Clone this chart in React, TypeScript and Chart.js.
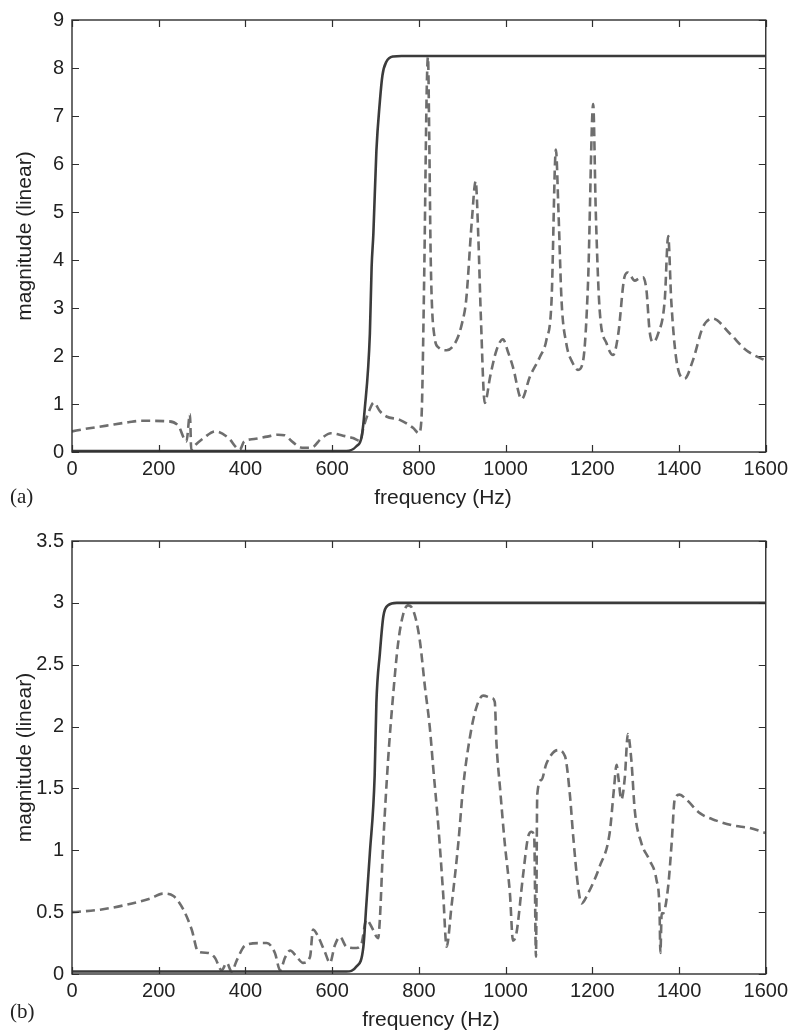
import React, { useEffect, useRef } from "react";
import { Chart, registerables } from "chart.js";

Chart.register(...registerables);

// ---------- Panel (a) ----------
const dashedFreqA = [
  0, 30, 80, 130, 160, 218, 245, 264, 272, 275, 285, 305, 330, 360, 387, 397, 420, 450, 475, 490,
  510, 530, 552, 575, 597, 625, 648, 665, 672, 685, 696, 710, 725, 756, 787, 800, 806, 812, 818, 821,
  824, 827, 830, 836, 845, 864, 887, 900, 909, 922, 931, 937, 943, 952, 965, 979, 994, 1005, 1017, 1037,
  1056, 1079, 1094, 1106, 1116, 1122, 1129, 1140, 1155, 1167, 1179, 1190, 1202, 1208, 1217, 1233, 1248, 1260, 1274, 1282,
  1298, 1308, 1317, 1325, 1332, 1340, 1352, 1367, 1375, 1382, 1394, 1413, 1432, 1455, 1478, 1517, 1555, 1600,
];
const dashedMagA = [
  0.43, 0.48, 0.55, 0.62, 0.65, 0.64, 0.55, 0.22, 0.79, 0.05, 0.15, 0.3, 0.43, 0.3, 0.05, 0.22, 0.27, 0.32, 0.36, 0.35,
  0.2, 0.09, 0.09, 0.28, 0.39, 0.34, 0.29, 0.23, 0.5, 0.85, 1.03, 0.85, 0.74, 0.67, 0.5, 0.39, 0.7, 3.5, 7.5, 8.23,
  6.5, 4.2, 3.1, 2.4, 2.18, 2.12, 2.33, 2.7, 3.16, 4.8, 5.64, 4.5, 2.8, 1.02, 1.6, 2.12, 2.35, 2.1, 1.77, 1.1,
  1.57, 1.98, 2.33, 3.16, 6.3, 5.0, 3.16, 2.26, 1.85, 1.71, 1.91, 3.5, 7.25, 5.0, 2.95, 2.26, 2.02, 2.47, 3.64, 3.74,
  3.57, 3.62, 3.64, 3.36, 2.53, 2.29, 2.47, 3.16, 4.5, 3.16, 1.91, 1.53, 1.91, 2.6, 2.78, 2.47, 2.12, 1.9,
];
const solidFreqA = [0, 300, 600, 633, 656, 668, 675, 687, 691, 695, 702, 710, 716, 725, 741, 760, 1600];
const solidMagA = [0.02, 0.02, 0.02, 0.02, 0.12, 0.32, 0.88, 2.47, 3.85, 4.54, 6.27, 7.3, 7.85, 8.13, 8.24, 8.25, 8.25];

// ---------- Panel (b) ----------
const dashedFreqB = [
  0, 65, 126, 180, 210, 234, 257, 276, 291, 314, 330, 345, 357, 368, 380, 399, 433, 449, 468, 480,
  491, 503, 518, 533, 549, 556, 568, 583, 595, 606, 618, 633, 656, 668, 679, 691, 706, 710, 717, 729,
  741, 752, 764, 775, 787, 802, 814, 825, 833, 845, 856, 864, 875, 891, 902, 918, 933, 948, 968, 975,
  979, 987, 998, 1010, 1017, 1025, 1040, 1052, 1060, 1066, 1070, 1073, 1083, 1094, 1121, 1137, 1148, 1156, 1167, 1175,
  1190, 1217, 1240, 1250, 1256, 1260, 1267, 1275, 1282, 1290, 1298, 1313, 1332, 1348, 1355, 1357, 1360, 1363, 1375, 1383,
  1390, 1401, 1417, 1448, 1486, 1525, 1563, 1600,
];
const dashedMagB = [
  0.5, 0.52, 0.56, 0.61, 0.65, 0.63, 0.52, 0.36, 0.18, 0.17, 0.13, 0.03, 0.09, 0.02, 0.11, 0.23, 0.25, 0.25, 0.17, 0.03,
  0.13, 0.19, 0.14, 0.09, 0.14, 0.36, 0.3, 0.18, 0.09, 0.23, 0.3, 0.22, 0.21, 0.25, 0.44, 0.38, 0.29, 0.44, 1.0, 1.73,
  2.27, 2.67, 2.91, 2.98, 2.94, 2.7, 2.32, 2.0, 1.67, 1.19, 0.65, 0.22, 0.54, 1.06, 1.51, 1.92, 2.16, 2.25, 2.23, 2.2,
  1.86, 1.51, 1.06, 0.65, 0.27, 0.33, 0.79, 1.11, 1.15, 1.11, 0.14, 1.45, 1.57, 1.7, 1.81, 1.76, 1.46, 1.11, 0.71, 0.57,
  0.65, 0.87, 1.14, 1.5, 1.69, 1.59, 1.41, 1.59, 1.94, 1.73, 1.32, 1.06, 0.92, 0.76, 0.52, 0.17, 0.49, 0.49, 0.71, 1.06,
  1.41, 1.45, 1.41, 1.3, 1.24, 1.2, 1.18, 1.14,
];
const solidFreqB = [0, 300, 600, 633, 656, 672, 679, 687, 698, 702, 710, 718, 729, 749, 1600];
const solidMagB = [0.02, 0.02, 0.02, 0.02, 0.06, 0.22, 0.57, 0.98, 1.6, 2.19, 2.59, 2.89, 2.98, 3.0, 3.0];

const xTickStep = 200;
const xMax = 1600;
const yMaxA = 9;
const yStepA = 1;
const yMaxB = 3.5;
const yStepB = 0.5;

const xTitle = "frequency (Hz)";
const yTitle = "magnitude (linear)";

const SANS = '"Liberation Sans", Arial, Helvetica, sans-serif';
const SERIF = '"Liberation Serif", "Times New Roman", serif';

const toPoints = (xs: number[], ys: number[]) => xs.map((x, i) => ({ x, y: ys[i] }));

const framePlugin = {
  id: "frame",
  afterDraw(chart: any, _args: any, opts: any) {
    const { ctx, chartArea: a, scales } = chart;
    ctx.save();
    ctx.strokeStyle = "#2e2e2e";
    ctx.lineWidth = 1.4;
    ctx.strokeRect(a.left, a.top, a.right - a.left, a.bottom - a.top);
    const L = 7;
    ctx.beginPath();
    scales.x.ticks.forEach((t: any) => {
      const px = Math.round(scales.x.getPixelForValue(t.value)) + 0.5;
      ctx.moveTo(px, a.bottom);
      ctx.lineTo(px, a.bottom - L);
      ctx.moveTo(px, a.top);
      ctx.lineTo(px, a.top + L);
    });
    scales.y.ticks.forEach((t: any) => {
      const py = Math.round(scales.y.getPixelForValue(t.value)) + 0.5;
      ctx.moveTo(a.left, py);
      ctx.lineTo(a.left + L, py);
      ctx.moveTo(a.right, py);
      ctx.lineTo(a.right - L, py);
    });
    ctx.lineWidth = 1.2;
    ctx.stroke();

    ctx.fillStyle = "#222";
    ctx.font = `21px ${SANS}`;
    ctx.textAlign = "center";
    ctx.textBaseline = "middle";
    ctx.fillText(opts.xTitle, opts.xTitleX, opts.xTitleY);

    ctx.font = `21px ${SERIF}`;
    ctx.textAlign = "left";
    ctx.fillText(opts.panel, opts.panelX, opts.panelY);
    ctx.restore();
  },
};

type PanelProps = {
  dashed: { x: number; y: number }[];
  solid: { x: number; y: number }[];
  yMax: number;
  yStep: number;
  padTop: number;
  xAxisHeight: number;
  panel: string;
  xTitleX: number;
  xTitleY: number;
  panelY: number;
};

function Panel(p: PanelProps) {
  const ref = useRef<HTMLCanvasElement | null>(null);
  useEffect(() => {
    if (!ref.current) return;
    const chart = new Chart(ref.current, {
      type: "line",
      data: {
        datasets: [
          {
            data: p.solid,
            borderColor: "#3b3b3b",
            borderWidth: 2.6,
            pointRadius: 0,
            fill: false,
            cubicInterpolationMode: "monotone",
          },
          {
            data: p.dashed,
            borderColor: "#6e6e6e",
            borderWidth: 2.6,
            borderDash: [9, 5],
            pointRadius: 0,
            fill: false,
            cubicInterpolationMode: "monotone",
          },
        ],
      },
      options: {
        animation: false,
        responsive: false,
        events: [],
        layout: { padding: { top: p.padTop, right: 27, left: 0, bottom: 0 } },
        plugins: {
          legend: { display: false },
          tooltip: { enabled: false },
          frame: {
            xTitle,
            xTitleX: p.xTitleX,
            xTitleY: p.xTitleY,
            panel: p.panel,
            panelX: 10,
            panelY: p.panelY,
          },
        } as any,
        scales: {
          x: {
            type: "linear",
            min: 0,
            max: xMax,
            grid: { display: false, drawTicks: false },
            border: { display: false },
            ticks: {
              stepSize: xTickStep,
              padding: 5,
              color: "#222",
              font: { family: SANS, size: 20 },
              maxRotation: 0,
              callback: (v: any) => String(v),
            },
            afterFit: (s: any) => {
              s.height = p.xAxisHeight;
            },
          },
          y: {
            type: "linear",
            min: 0,
            max: p.yMax,
            grid: { display: false, drawTicks: false },
            border: { display: false },
            ticks: {
              stepSize: p.yStep,
              padding: 8,
              color: "#222",
              font: { family: SANS, size: 20 },
              callback: (v: any) => String(v),
            },
            title: {
              display: true,
              text: yTitle,
              color: "#222",
              font: { family: SANS, size: 21 },
              padding: { top: 13, bottom: 0 },
            },
            afterFit: (s: any) => {
              s.width = 72;
            },
          },
        },
      },
      plugins: [framePlugin],
    } as any);
    return () => chart.destroy();
  }, []);
  return <canvas ref={ref} width={793} height={516} style={{ display: "block" }} />;
}

export default function App() {
  return (
    <div style={{ position: "absolute", left: 0, top: 0, width: 793, height: 1032, background: "#fff" }}>
      <Panel
        dashed={toPoints(dashedFreqA, dashedMagA)}
        solid={toPoints(solidFreqA, solidMagA)}
        yMax={yMaxA}
        yStep={yStepA}
        padTop={18}
        xAxisHeight={64}
        panel="(a)"
        xTitleX={443}
        xTitleY={498}
        panelY={497}
      />
      <Panel
        dashed={toPoints(dashedFreqB, dashedMagB)}
        solid={toPoints(solidFreqB, solidMagB)}
        yMax={yMaxB}
        yStep={yStepB}
        padTop={25}
        xAxisHeight={58}
        panel="(b)"
        xTitleX={431}
        xTitleY={504}
        panelY={496}
      />
    </div>
  );
}
